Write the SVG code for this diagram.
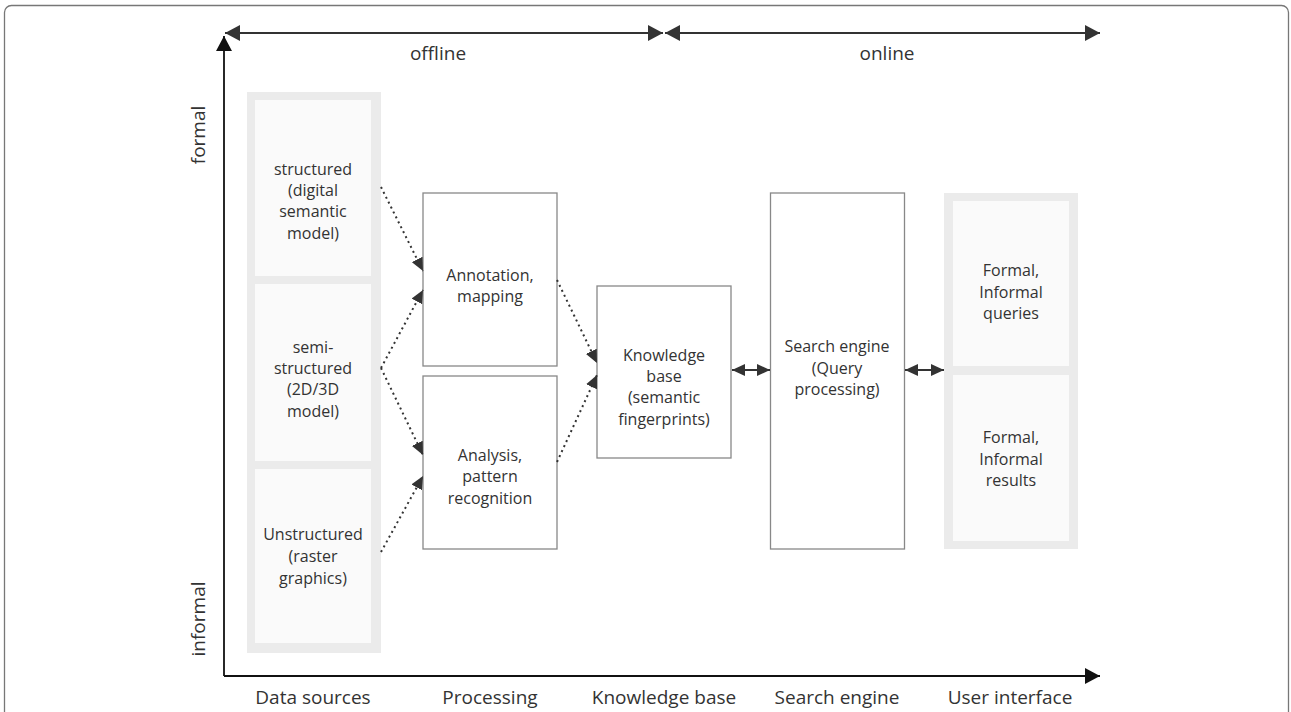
<svg xmlns="http://www.w3.org/2000/svg" width="1291" height="712" viewBox="0 0 1291 712">
<style>
text{font-family:"Open Sans","Noto Sans","Liberation Sans",sans-serif;fill:#333;text-anchor:middle}
.t{font-size:16px}
.l{font-size:19px}
.box{fill:#fff;stroke:#888;stroke-width:1.3}
.outer{fill:#ebebeb}
.inner{fill:#fafafa}
.dot{fill:none;stroke:#333;stroke-width:2;stroke-dasharray:2 3.5}
.axis{fill:none;stroke:#111;stroke-width:1.8}
.span{fill:none;stroke:#333;stroke-width:1.8}
.dbl{fill:none;stroke:#333;stroke-width:2}
</style>
<defs>
<marker id="ah" viewBox="0 0 13 12" refX="13" refY="6" markerWidth="13" markerHeight="12" markerUnits="userSpaceOnUse" orient="auto-start-reverse"><path d="M0,0 L13,6 L0,12 Z" fill="#333"/></marker>
<marker id="big" viewBox="0 0 15 16" refX="15" refY="8" markerWidth="15" markerHeight="16" markerUnits="userSpaceOnUse" orient="auto-start-reverse"><path d="M0,0 L15,8 L0,16 Z" fill="#333"/></marker>
<marker id="bigk" viewBox="0 0 15 16" refX="15" refY="8" markerWidth="15" markerHeight="16" markerUnits="userSpaceOnUse" orient="auto-start-reverse"><path d="M0,0 L15,8 L0,16 Z" fill="#111"/></marker>
</defs>
<rect x="4.5" y="5.5" width="1284" height="730" rx="7" fill="#fff" stroke="#777" stroke-width="1.3"/>

<g id="axes">
<path class="axis" d="M224,676 V36" marker-end="url(#bigk)"/>
<path class="axis" d="M224,676 H1100" marker-end="url(#bigk)"/>
<path class="span" d="M225,33 H663" marker-start="url(#big)" marker-end="url(#big)"/>
<path class="span" d="M665,33 H1100" marker-start="url(#big)" marker-end="url(#big)"/>
<text class="l" x="438" y="60">offline</text>
<text class="l" x="887" y="60">online</text>
<text class="l" transform="translate(205,135) rotate(-90)">formal</text>
<text class="l" transform="translate(205,619) rotate(-90)">informal</text>
<text class="l" x="313" y="704">Data sources</text>
<text class="l" x="490" y="704">Processing</text>
<text class="l" x="664" y="704">Knowledge base</text>
<text class="l" x="837" y="704">Search engine</text>
<text class="l" x="1010" y="704">User interface</text>
</g>

<g id="data-sources">
<rect class="outer" x="247" y="92" width="134" height="561"/>
<g id="structured">
<rect class="inner" x="255" y="100" width="116" height="176"/>
<text class="t" x="313" y="175">structured</text>
<text class="t" x="313" y="196">(digital</text>
<text class="t" x="313" y="217">semantic</text>
<text class="t" x="313" y="239">model)</text>
</g>
<g id="semi-structured">
<rect class="inner" x="255" y="284" width="116" height="177"/>
<text class="t" x="313" y="353">semi-</text>
<text class="t" x="313" y="374">structured</text>
<text class="t" x="313" y="395">(2D/3D</text>
<text class="t" x="313" y="417">model)</text>
</g>
<g id="unstructured">
<rect class="inner" x="255" y="469" width="116" height="174"/>
<text class="t" x="313" y="540">Unstructured</text>
<text class="t" x="313" y="562">(raster</text>
<text class="t" x="313" y="584">graphics)</text>
</g>
</g>

<g id="annotation">
<rect class="box" x="423" y="193" width="134" height="173"/>
<text class="t" x="490" y="281">Annotation,</text>
<text class="t" x="490" y="302">mapping</text>
</g>
<g id="analysis">
<rect class="box" x="423" y="376" width="134" height="173"/>
<text class="t" x="490" y="461">Analysis,</text>
<text class="t" x="490" y="482">pattern</text>
<text class="t" x="490" y="504">recognition</text>
</g>
<g id="knowledge-base">
<rect class="box" x="597" y="286" width="134" height="172"/>
<text class="t" x="664" y="361">Knowledge</text>
<text class="t" x="664" y="382">base</text>
<text class="t" x="664" y="403">(semantic</text>
<text class="t" x="664" y="425">fingerprints)</text>
</g>
<g id="search-engine">
<rect class="box" x="770.5" y="193" width="134" height="356"/>
<text class="t" x="837" y="352">Search engine</text>
<text class="t" x="837" y="374">(Query</text>
<text class="t" x="837" y="395">processing)</text>
</g>
<g id="user-interface">
<rect class="outer" x="944" y="193" width="134" height="356"/>
<g id="queries">
<rect class="inner" x="953" y="201" width="116" height="165"/>
<text class="t" x="1011" y="276">Formal,</text>
<text class="t" x="1011" y="298">Informal</text>
<text class="t" x="1011" y="319">queries</text>
</g>
<g id="results">
<rect class="inner" x="953" y="375" width="116" height="166"/>
<text class="t" x="1011" y="443">Formal,</text>
<text class="t" x="1011" y="465">Informal</text>
<text class="t" x="1011" y="486">results</text>
</g>
</g>

<g id="connectors">
<path class="dot" d="M381,187 L423,271" marker-end="url(#ah)"/>
<path class="dot" d="M381,368 L423,290" marker-end="url(#ah)"/>
<path class="dot" d="M381,368 L423,455" marker-end="url(#ah)"/>
<path class="dot" d="M381,552 L423,476" marker-end="url(#ah)"/>
<path class="dot" d="M557,280 L597,363" marker-end="url(#ah)"/>
<path class="dot" d="M557,462 L597,375" marker-end="url(#ah)"/>
<path class="dbl" d="M732,370 H770" marker-start="url(#ah)" marker-end="url(#ah)"/>
<path class="dbl" d="M905,370 H944" marker-start="url(#ah)" marker-end="url(#ah)"/>
</g>
</svg>
